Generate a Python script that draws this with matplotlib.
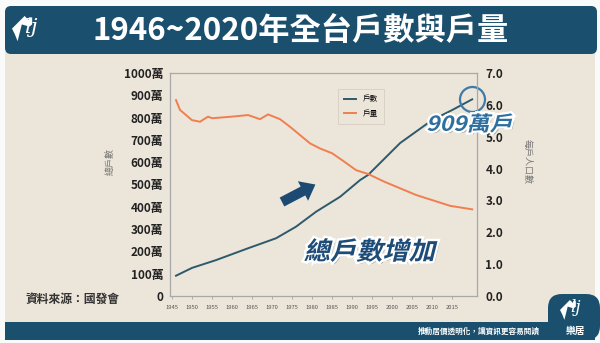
import matplotlib
matplotlib.use("Agg")
import matplotlib.pyplot as plt
from matplotlib.patches import Rectangle, FancyBboxPatch, FancyArrow, PathPatch, Polygon
from matplotlib.textpath import TextPath
from matplotlib.font_manager import FontProperties
from matplotlib.transforms import Affine2D
import matplotlib.patheffects as pe

plt.rcParams['font.family'] = ['Noto Sans CJK TC', 'DejaVu Sans']

# data
hh_years = [1946, 1950, 1956, 1964, 1971, 1976, 1981, 1987, 1992, 1994, 2002, 2010, 2015, 2020]
households = [91, 126, 161, 214, 259, 311, 378, 445, 520, 543, 686, 789, 834, 882]  # 萬

size_years = [1946, 1947, 1950, 1952, 1954, 1955, 1960, 1964, 1967, 1969, 1972, 1974.5,
              1977, 1979.5, 1982, 1985, 1988, 1991, 1994, 1998, 2002, 2006, 2010, 2014.5, 2020]
hh_size = [6.15, 5.84, 5.52, 5.47, 5.63, 5.58, 5.63, 5.68, 5.55, 5.70, 5.55, 5.31,
           5.05, 4.79, 4.63, 4.48, 4.22, 3.95, 3.83, 3.59, 3.38, 3.17, 3.01, 2.83, 2.72]

left_ticks = list(range(0, 1001, 100))
left_labels = ['0'] + [f'{v}萬' for v in left_ticks[1:]]
right_ticks = [0, 1, 2, 3, 4, 5, 6, 7]
x_ticks = list(range(1945, 2016, 5))

NAVY = '#1b4f6e'
BEIGE = '#ece5d9'
BLUE = '#2c5a6c'
ORANGE = '#f07f4f'

W, H = 600, 343
fig = plt.figure(figsize=(6.0, 3.43), dpi=100, facecolor='#fafafa')
PX = Affine2D().scale(1 / 100) + fig.dpi_scale_trans  # pixel coords, y up


def fy(y):
    return H - y


# background panels
fig.add_artist(Rectangle((5, fy(322)), 590, 270, transform=PX, facecolor=BEIGE, edgecolor='none', zorder=-10))
fig.add_artist(FancyBboxPatch((5, fy(54)), 592, 48, boxstyle='round,pad=0,rounding_size=6',
                              transform=PX, facecolor=NAVY, edgecolor='none', zorder=-9))
fig.add_artist(Rectangle((5, fy(340)), 590, 18, transform=PX, facecolor=NAVY, edgecolor='none', zorder=-9))
fig.add_artist(FancyBboxPatch((548, fy(340)), 52, 46, boxstyle='round,pad=0,rounding_size=14',
                              transform=PX, facecolor=NAVY, edgecolor='none', zorder=-9))


def logo(x, y, s):
    roof = [(x, y + 0.55 * s), (x + 0.45 * s, y + s), (x + 0.6 * s, y + 0.85 * s),
            (x + 0.6 * s, y + 0.95 * s), (x + 0.72 * s, y + 0.95 * s), (x + 0.72 * s, y + 0.7 * s),
            (x + 0.62 * s, y + 0.62 * s), (x + 0.35 * s, y + 0.7 * s), (x + 0.2 * s, y + 0.1 * s),
            (x + 0.1 * s, y + 0.35 * s)]
    fig.add_artist(Polygon(roof, closed=True, transform=PX, facecolor='white', edgecolor='none'))
    fig.text((x + 0.45 * s) / W, (y + 0.25 * s) / H, 'lj', family='DejaVu Serif', style='italic',
             color='white', fontsize=s * 0.55, va='bottom', ha='left')


logo(12, fy(44), 28)
logo(560, fy(322), 22)
fig.text(576 / W, fy(331) / H, '樂居', color='white', fontsize=7, fontweight='bold', ha='center', va='center')

fig.text(301 / W, fy(31) / H, '1946~2020年全台戶數與戶量', color='white', fontsize=22.5,
         fontweight='bold', ha='center', va='center')
fig.text(540 / W, fy(331) / H, '推動居價透明化，讓資訊更容易閱讀', color='white', fontsize=5.5,
         fontweight='bold', ha='right', va='center')
fig.text(25 / W, fy(299) / H, '資料來源：國發會', color='#333333', fontsize=8.5,
         fontweight='bold', ha='left', va='center')
fig.text(110 / W, fy(162) / H, '總戶數', color='#777777', fontsize=6.5, rotation=90,
         ha='center', va='center')
fig.text(527 / W, fy(162) / H, '每戶人口數', color='#777777', fontsize=6.5, rotation=270,
         ha='center', va='center')

# axes
ax = fig.add_axes([170 / W, fy(296) / H, 307 / W, 223 / H])
ax.set_facecolor('none')
ax2 = ax.twinx()

l1, = ax.plot(hh_years, households, color=BLUE, lw=1.4, label='戶數')
l2, = ax2.plot(size_years, hh_size, color=ORANGE, lw=1.4, label='戶量')
ax.plot(hh_years[-1:], households[-1:], 'o', ms=18, mfc='none', mec='#3f7ba6', mew=1.6, zorder=5,
        clip_on=False)

ax.set_xlim(1944.5, 2021.2)
ax.set_ylim(0, 1000)
ax2.set_ylim(0, 7)
ax.set_xticks(x_ticks)
ax.set_xticklabels([str(v) for v in x_ticks], fontsize=4.2, color='#555555')
ax.tick_params(axis='x', length=2.5, width=0.5, color='#999999', pad=4)
ax.set_yticks(left_ticks)
ax.set_yticklabels(left_labels, fontsize=8.5, fontweight='bold', color='#222222')
ax.tick_params(axis='y', length=0, pad=5)
ax2.set_yticks(right_ticks)
ax2.set_yticklabels([f'{v:.1f}' for v in right_ticks], fontsize=8.5, fontweight='bold', color='#222222')
ax2.tick_params(axis='y', length=0, pad=6)
for a in (ax, ax2):
    for sp in a.spines.values():
        sp.set_color('#a8a8a8')
        sp.set_linewidth(0.8)

leg = ax.legend(handles=[l1, l2], loc='upper left', bbox_to_anchor=(0.535, 0.945), fontsize=5.5,
                frameon=True, facecolor=BEIGE, edgecolor='#d6cec2', framealpha=1, fancybox=False,
                handlelength=1.6, borderpad=0.8, labelspacing=0.9)
leg.get_frame().set_linewidth(0.6)


# slanted outlined callouts
def slanted(s, x, y, size, color, xscale=1.0, stroke=3.0):
    tp = TextPath((0, 0), s, size=size, prop=FontProperties(family='Noto Sans CJK TC', weight='bold'))
    bb = tp.get_extents()
    tr = (Affine2D().translate(-(bb.x0 + bb.x1) / 2, -(bb.y0 + bb.y1) / 2)
          .scale(xscale, 1).skew_deg(14, 0).translate(x, fy(y)) + PX)
    fig.add_artist(PathPatch(tp, transform=tr, facecolor=color, edgecolor='none', zorder=10,
                             path_effects=[pe.SimplePatchShadow(offset=(1.5, -1.5), shadow_rgbFace='#444444', alpha=0.5),
                                           pe.withStroke(linewidth=stroke, foreground='white')]))


slanted('909萬戶', 470, 123, 20.5, '#2f6f9f', xscale=1.12, stroke=3.2)
slanted('總戶數增加', 371, 250, 25, '#1e4c78', xscale=1.05, stroke=3.4)

fig.add_artist(FancyArrow(282, fy(202), 21, 11, width=10, head_width=22, head_length=14,
                          length_includes_head=False, transform=PX, facecolor='#1d4a72',
                          edgecolor='none', zorder=10))

fig.savefig('out.png', dpi=100, facecolor=fig.get_facecolor())
